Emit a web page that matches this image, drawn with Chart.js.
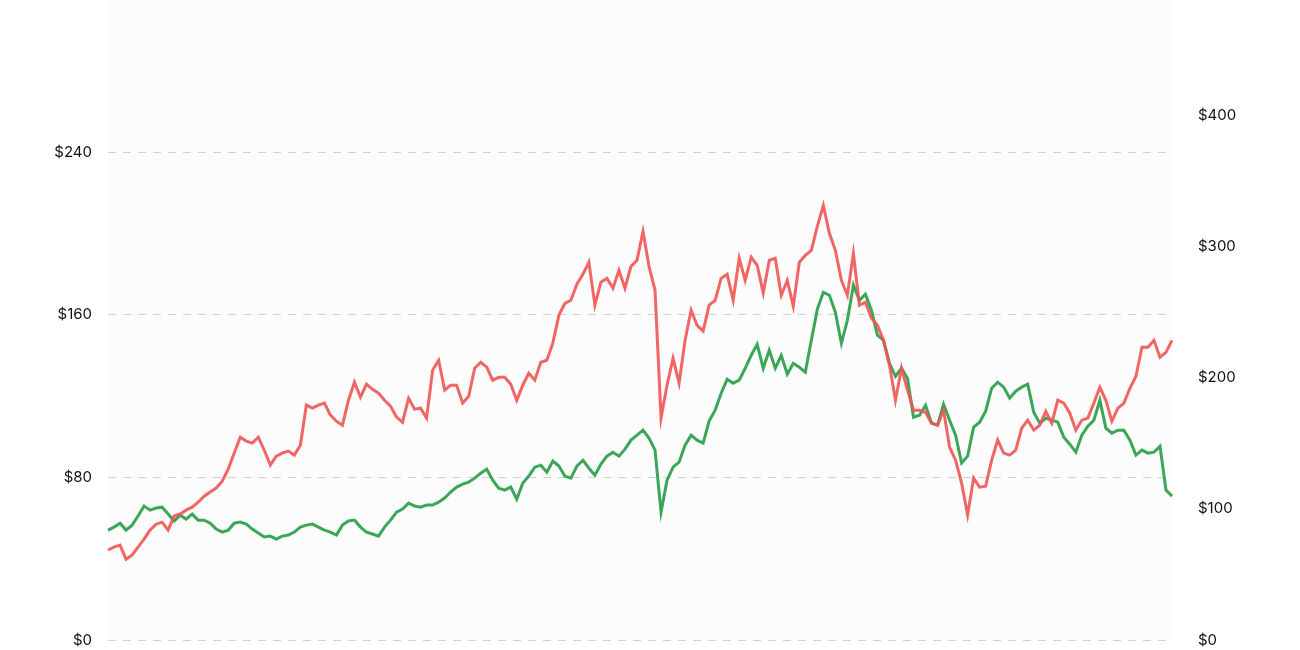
<!DOCTYPE html>
<html>
<head>
<meta charset="utf-8">
<script src="https://cdn.jsdelivr.net/npm/chart.js@4"></script>
<style>
  html, body { margin: 0; padding: 0; background: #fff; }
  #wrap { width: 1300px; height: 650px; }
</style>
</head>
<body>
<div id="wrap"><canvas id="priceChart"></canvas></div>
<script>
// prices, one point per period
const redPrices = [
  44.3, 45.7, 46.7, 39.8, 41.8, 45.7, 49.7, 54.1, 57.0, 58.0,
  54.1, 61.0, 62.0, 63.9, 65.4, 67.9, 70.8, 72.8, 74.8, 78.2,
  84.1, 92.0, 99.8, 97.9, 96.9, 99.8, 93.4, 86.1, 90.5, 92.0,
  93.0, 91.0, 95.9, 115.6, 114.1, 115.6, 116.6, 110.7, 107.7, 105.7,
  118.0, 126.9, 119.5, 125.9, 123.4, 121.5, 118.0, 115.1, 109.7, 107.2,
  119.0, 113.6, 114.1, 109.2, 132.8, 137.7, 123.0, 125.4, 125.4, 116.6,
  120.0, 133.8, 136.7, 134.3, 127.9, 129.3, 129.3, 125.9, 118.0, 125.4,
  131.3, 127.9, 136.7, 137.7, 146.1, 159.8, 165.7, 167.2, 175.1, 180.0,
  185.9, 164.8, 176.1, 178.0, 173.1, 182.0, 173.1, 183.9, 186.9, 201.1,
  183.9, 172.1, 109.2, 125.4, 138.7, 126.4, 147.5, 162.3, 154.9, 152.0,
  164.8, 167.2, 178.0, 180.0, 167.2, 187.9, 177.0, 188.4, 184.4, 170.7,
  186.9, 187.9, 169.7, 177.0, 164.3, 185.9, 189.3, 191.8, 203.6, 213.9,
  200.2, 191.8, 177.0, 169.7, 190.3, 164.8, 166.2, 158.4, 154.9, 147.5,
  135.2, 118.0, 133.8, 123.0, 113.1, 113.1, 112.1, 106.7, 105.7, 113.1,
  94.9, 88.5, 77.2, 61.5, 79.7, 75.2, 75.7, 88.5, 98.4, 92.0,
  91.0, 93.4, 104.3, 108.2, 103.3, 105.7, 112.6, 106.7, 118.0, 116.6,
  111.6, 103.3, 108.2, 109.2, 116.6, 124.4, 118.0, 107.7, 114.1, 116.6,
  123.9, 129.8, 144.1, 144.1, 147.5, 139.2, 141.6, 147.5
];

const greenPrices = [
  83.8, 86.1, 89.1, 83.8, 87.6, 94.5, 102.1, 99.0, 100.6, 101.3,
  96.0, 90.7, 95.2, 92.2, 96.0, 91.4, 91.4, 89.1, 84.6, 82.3,
  83.8, 89.1, 89.9, 88.4, 84.6, 81.5, 78.5, 79.2, 77.0, 79.2,
  80.0, 82.3, 86.1, 87.6, 88.4, 86.1, 83.8, 82.3, 80.0, 87.6,
  90.7, 91.4, 86.1, 82.3, 80.8, 79.2, 86.1, 91.4, 97.5, 99.8,
  104.4, 102.1, 101.3, 102.9, 102.9, 105.1, 108.2, 112.8, 116.6, 118.9,
  120.4, 123.4, 127.2, 130.3, 121.9, 115.8, 114.3, 116.6, 107.4, 119.6,
  125.0, 131.8, 133.3, 128.0, 136.4, 132.6, 125.0, 123.4, 132.6, 137.1,
  131.0, 125.7, 134.1, 140.2, 143.2, 140.2, 145.5, 152.4, 156.2, 160.0,
  153.9, 144.8, 97.5, 121.9, 131.8, 135.6, 148.6, 156.2, 152.4, 150.1,
  166.9, 175.2, 188.2, 198.9, 195.8, 198.1, 207.2, 217.1, 225.5, 207.2,
  221.0, 207.2, 217.1, 202.7, 211.0, 208.0, 204.2, 228.6, 252.2, 265.1,
  262.9, 249.9, 226.3, 243.8, 270.5, 259.0, 263.6, 251.4, 232.4, 228.6,
  211.0, 201.1, 207.2, 199.6, 169.9, 171.4, 179.0, 165.3, 163.8, 179.8,
  167.6, 156.2, 134.9, 140.2, 162.3, 166.1, 174.5, 192.0, 196.6, 192.8,
  184.4, 189.7, 192.8, 195.0, 173.7, 165.3, 169.1, 167.6, 166.1, 154.7,
  149.3, 143.2, 156.2, 163.0, 167.6, 182.9, 161.5, 157.7, 160.0, 160.0,
  152.4, 141.0, 144.8, 142.5, 143.2, 147.8, 114.3, 109.7
];

const periods = redPrices.map((_, i) => i);
const leftTicks = [0, 80, 160, 240];
const rightTicks = [0, 100, 200, 300, 400];

const tickFont = { family: 'Inter, "Noto Sans", sans-serif', size: 15 };

// faint fill behind the plot
const plotBg = {
  id: 'plotBg',
  beforeDraw(chart) {
    const { ctx, chartArea: a } = chart;
    ctx.save();
    ctx.fillStyle = '#fcfcfc';
    ctx.fillRect(a.left, a.top, a.right - a.left, a.bottom - a.top);
    ctx.restore();
  }
};

// fixed axis width, and no extra room reserved for the end labels
function fitAxis(width) {
  return axis => {
    axis.width = width;
    axis.paddingTop = 0;
    axis.paddingBottom = 0;
  };
}

const ctx = document.getElementById('priceChart').getContext('2d');

const conf = {
  type: 'line',
  data: {
    labels: periods,
    datasets: [
      {
        data: redPrices,
        yAxisID: 'y',
        borderColor: 'rgba(240, 84, 84, 0.9)',
        borderWidth: 3,
        pointRadius: 0,
        tension: 0,
        fill: false
      },
      {
        data: greenPrices,
        yAxisID: 'y1',
        borderColor: 'rgb(58, 166, 88)',
        borderWidth: 3,
        pointRadius: 0,
        tension: 0,
        fill: false
      }
    ]
  },
  options: {
    responsive: true,
    maintainAspectRatio: false,
    animation: false,
    layout: { padding: { top: 0, bottom: 10, left: 0, right: 0 } },
    plugins: {
      legend: { display: false },
      tooltip: { enabled: false }
    },
    scales: {
      x: { display: false },
      y: {
        position: 'left',
        min: 0,
        max: 315,
        afterBuildTicks: axis => { axis.ticks = leftTicks.map(v => ({ value: v })); },
        afterFit: fitAxis(108),
        grid: { color: '#d2d2d2', lineWidth: 1, drawTicks: false },
        border: { display: false, dash: [8, 7] },
        ticks: {
          padding: 16,
          color: '#111',
          font: tickFont,
          callback: v => '$' + v
        }
      },
      y1: {
        position: 'right',
        min: 0,
        max: 488,
        afterBuildTicks: axis => { axis.ticks = rightTicks.map(v => ({ value: v })); },
        afterFit: fitAxis(128),
        grid: { display: false },
        border: { display: false },
        ticks: {
          padding: 18,
          color: '#111',
          font: tickFont,
          callback: v => '$' + v
        }
      }
    }
  },
  plugins: [plotBg]
};

const priceChart = new Chart(ctx, conf);
</script>
</body>
</html>
